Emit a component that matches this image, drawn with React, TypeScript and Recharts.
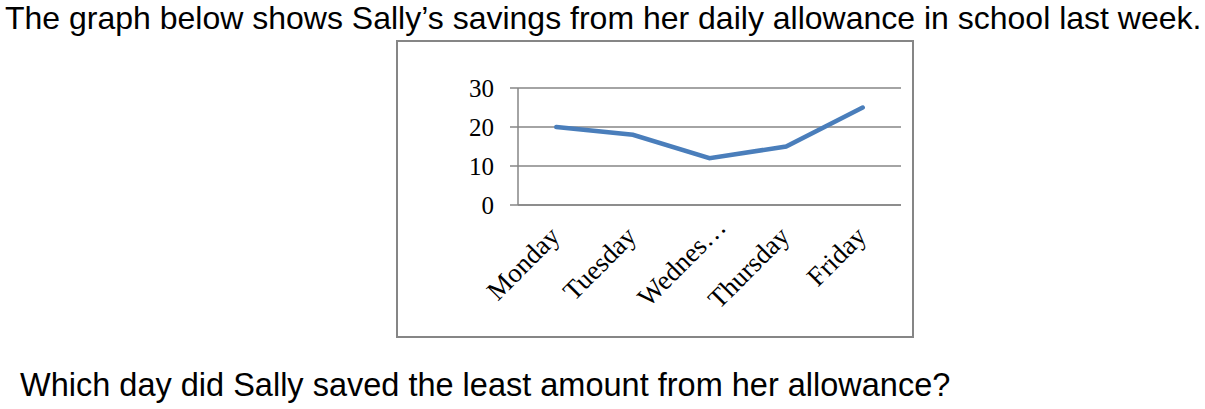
import { LineChart, Line, XAxis, YAxis, CartesianGrid } from 'recharts';

// Sally's savings per school day
const DAYS = ['Monday', 'Tuesday', 'Wednesday', 'Thursday', 'Friday'];
const SAVINGS = [20, 18, 12, 15, 25];
const Y_TICKS = [0, 10, 20, 30];
const BOUNDARY_TICKS = [0, 1, 2, 3, 4, 5];

const data = DAYS.map((day, i) => ({ day, savings: SAVINGS[i] }));

const AXIS_GRAY = '#868686';
const LINE_BLUE = '#4A7EBB';
const SERIF = '"Liberation Serif", "DejaVu Serif", serif';

function DayTick({ x, y, payload }: any) {
  const long = payload.value.length > 8;
  const label = long ? payload.value.slice(0, 6) + '…' : payload.value;
  // truncated labels sit a little further out, like Excel draws them
  const tx = x + 5 + (long ? 13 : 0);
  const ty = y + 24 - (long ? 9 : 0);
  return (
    <text
      x={tx}
      y={ty}
      transform={`rotate(-45, ${tx}, ${ty})`}
      textAnchor="end"
      fontFamily={SERIF}
      fontSize={27}
      fill="#000"
    >
      {label}
    </text>
  );
}

export default function App() {
  return (
    <div
      style={{
        position: 'absolute',
        left: 0,
        top: 0,
        width: 1205,
        height: 409,
        background: '#fff',
        fontFamily: '"Liberation Sans", Arial, sans-serif',
        color: '#000',
      }}
    >
      <div style={{ position: 'absolute', left: 5, top: 0, fontSize: 32, whiteSpace: 'nowrap', lineHeight: '36px' }}>
        The graph below shows Sally’s savings from her daily allowance in school last week.
      </div>

      <div
        style={{
          position: 'absolute',
          left: 396,
          top: 40,
          width: 518,
          height: 298,
          border: `2px solid ${AXIS_GRAY}`,
          boxSizing: 'border-box',
        }}
      >
        <LineChart
          width={514}
          height={294}
          data={data}
          margin={{ top: 46, right: 11, left: 60, bottom: 30 }}
        >
          <CartesianGrid horizontal vertical={false} stroke={AXIS_GRAY} strokeWidth={1.5} />
          <XAxis
            xAxisId="bounds"
            type="number"
            domain={[0, 5]}
            ticks={BOUNDARY_TICKS}
            tick={false}
            tickSize={8}
            height={1}
            stroke={AXIS_GRAY}
            strokeWidth={1.5}
          />
          <XAxis
            xAxisId="days"
            dataKey="day"
            scale="band"
            axisLine={false}
            tickLine={false}
            interval={0}
            height={100}
            tick={<DayTick />}
          />
          <YAxis
            domain={[0, 30]}
            ticks={Y_TICKS}
            width={60}
            tickSize={8}
            tickMargin={16}
            stroke={AXIS_GRAY}
            strokeWidth={1.5}
            tick={{ fill: '#000', fontSize: 25, fontFamily: SERIF }}
          />
          <Line
            xAxisId="days"
            type="linear"
            dataKey="savings"
            stroke={LINE_BLUE}
            strokeWidth={4.5}
            strokeLinecap="round"
            dot={false}
            isAnimationActive={false}
          />
        </LineChart>
      </div>

      <div style={{ position: 'absolute', left: 20, top: 367, fontSize: 32.5, whiteSpace: 'nowrap', lineHeight: '36px' }}>
        Which day did Sally saved the least amount from her allowance?
      </div>
    </div>
  );
}
